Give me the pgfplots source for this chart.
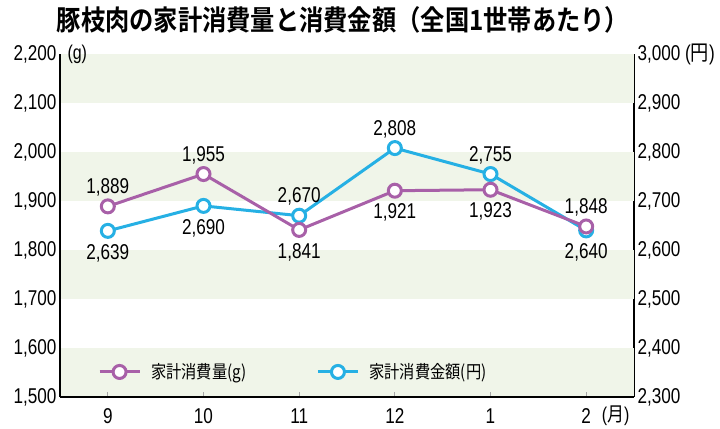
\documentclass[border=0pt]{standalone}
\usepackage{fontspec}
\setmainfont[FakeStretch=0.8]{Liberation Sans}
\newfontfamily\cjk[FakeStretch=0.85]{Noto Sans CJK JP}
\newfontfamily\cjktitle[FakeStretch=0.87]{Noto Sans CJK JP Bold}
\usepackage{pgfplots}
\pgfplotsset{compat=1.18}
\definecolor{purp}{RGB}{168,96,168}
\definecolor{blu}{RGB}{38,176,228}
\definecolor{band}{RGB}{240,245,233}

\pgfplotsset{
  /pgf/number format/.cd, 1000 sep={,}, fixed, precision=0, assume math mode=true,
  /pgfplots/.cd,
  common/.style={
    scale only axis, width=574bp, height=343bp, at={(60bp,32bp)}, anchor=south west,
    xmin=-0.5, xmax=5.5, clip=false,
    axis line style={line width=1.2bp, -},
    tick label style={font=\fontsize{21.5}{21.5}\selectfont},
    ytick style={draw=none},
  },
  series/.style={
    #1, line width=3bp, mark=*, mark size=6.5bp,
    mark options={fill=white, draw=#1, line width=3bp, solid},
  },
  lblabove/.style={draw=none, mark=none, forget plot, nodes near coords,
    nodes near coords style={anchor=base, yshift=13bp, inner sep=0pt, black,
      font=\fontsize{21.5}{21.5}\selectfont}},
  lblbelow/.style={draw=none, mark=none, forget plot, nodes near coords,
    nodes near coords style={anchor=north, yshift=-13bp, inner sep=0pt, black,
      font=\fontsize{21.5}{21.5}\selectfont}},
}

\begin{document}
\begin{tikzpicture}
\path[use as bounding box] (0,0) rectangle (720bp,429bp);

\begin{axis}[common,
  ymin=2300, ymax=3000,
  axis x line=none, axis y line*=right,
  ytick={2300,2400,...,3000},
  yticklabels={{2,300},{2,400},{2,500},{2,600},{2,700},{2,800},{2,900},{3,000 ({\cjk 円})}},
]
\fill[band] (axis cs:-0.5,2900) rectangle (axis cs:5.5,3000);
\fill[band] (axis cs:-0.5,2700) rectangle (axis cs:5.5,2800);
\fill[band] (axis cs:-0.5,2500) rectangle (axis cs:5.5,2600);
\fill[band] (axis cs:-0.5,2300) rectangle (axis cs:5.5,2400);
\addplot[series=blu] coordinates {(0,2639) (1,2690) (2,2670) (3,2808) (4,2755) (5,2640)};
\addplot[lblabove] coordinates {(2,2670) (3,2808) (4,2755)};
\addplot[lblbelow] coordinates {(0,2639) (1,2690) (5,2640)};
\end{axis}

\begin{axis}[common,
  ymin=1500, ymax=2200,
  axis x line*=bottom, axis y line*=left,
  ytick={1500,1600,...,2200},
  xtick={0,...,5}, xticklabels={9,10,11,12,1,2},
  xticklabel style={yshift=-8bp},
  tick align=inside, major tick length=5bp,
  xtick style={draw=gray!70, line width=0.8bp},
  legend image code/.code={
    \draw[line width=3bp] (0bp,0bp) -- (40bp,0bp);
    \draw[line width=3bp, fill=white] (20bp,0bp) circle (6.5bp);
  },
  legend columns=2,
  legend style={at={(rel axis cs:0.066,0.073)}, anchor=west, draw=none, fill=none,
    inner sep=0pt, nodes={inner sep=0pt},
    font=\cjk\fontsize{18}{18}\selectfont,
    /tikz/column 1/.style={column sep=10bp},
    /tikz/column 2/.style={column sep=70bp},
    /tikz/column 3/.style={column sep=10bp}},
]
\addplot[series=purp, forget plot] coordinates {(0,1889) (1,1955) (2,1841) (3,1921) (4,1923) (5,1848)};
\addplot[lblabove] coordinates {(0,1889) (1,1955) (5,1848)};
\addplot[lblbelow] coordinates {(2,1841) (3,1921) (4,1923)};
\addlegendimage{purp}
\addlegendentry{家計消費量(g)}
\addlegendimage{blu}
\addlegendentry{家計消費金額(円)}
\node[anchor=west, font=\fontsize{20}{20}\selectfont] at (rel axis cs:0,1) [xshift=4bp] {(g)};
\node[anchor=east, font=\fontsize{20}{20}\selectfont] at (rel axis cs:1,0) [yshift=-19bp, xshift=-1bp] {({\cjk 月})};
\end{axis}

\node[font=\cjktitle\fontsize{28}{28}\selectfont] at (343bp,409bp) {豚枝肉の家計消費量と消費金額（全国1世帯あたり）};
\end{tikzpicture}
\end{document}
